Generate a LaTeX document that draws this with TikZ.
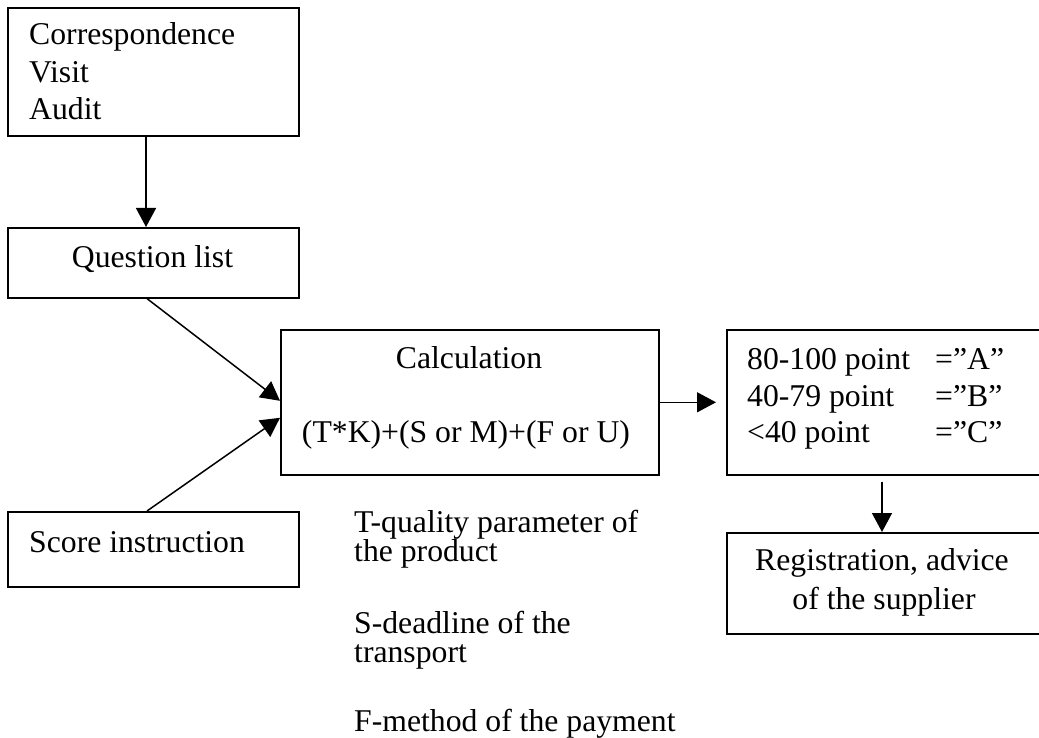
\documentclass[tikz,border=0pt]{standalone}
\usepackage{fontspec}
\setmainfont{Liberation Serif}
\usetikzlibrary{arrows.meta}
\tikzset{
  box/.style={draw, line width=1.6pt, rectangle, inner sep=0pt, anchor=north west},
  txt/.style={inner sep=0pt, font=\fontsize{31.7}{37.5}\selectfont},
  arr/.style={line width=1.5pt, -{Triangle[length=19pt,width=20pt]}},
}
\begin{document}
\begin{tikzpicture}[x=1pt,y=-1pt]
\useasboundingbox (0,0) rectangle (1039,738);
\clip (0,0) rectangle (1039,738);
% boxes
\node[box, minimum width=291pt, minimum height=128pt] (src) at (7,7) {};
\node[box, minimum width=291pt, minimum height=70pt] (qlist) at (7,227) {};
\node[box, minimum width=378pt, minimum height=145pt] (calc) at (280,329) {};
\node[box, minimum width=291pt, minimum height=75pt] (score) at (7,511) {};
\node[box, minimum width=314pt, minimum height=145pt] (grade) at (726,329) {};
\node[box, minimum width=314pt, minimum height=101pt] (reg) at (726,532) {};
% texts
\node[txt, anchor=base west] (t1) at (29,45) {Correspondence};
\node[txt, anchor=base west] (t2) at (29,83) {Visit};
\node[txt, anchor=base west] (t3) at (29,120) {Audit};
\node[txt, anchor=base] (tq) at (152.5,268) {Question list};
\node[txt, anchor=base] (tc1) at (469,368) {Calculation};
\node[txt, anchor=base] (tc2) at (466,442) {(T*K)+(S or M)+(F or U)};
\node[txt, anchor=base west] (g1a) at (747,369) {80-100 point};
\node[txt, anchor=base west] (g1b) at (935,369) {=”A”};
\node[txt, anchor=base west] (g2a) at (747,406) {40-79 point};
\node[txt, anchor=base west] (g2b) at (935,406) {=”B”};
\node[txt, anchor=base west] (g3a) at (747,442) {<40 point};
\node[txt, anchor=base west] (g3b) at (935,442) {=”C”};
\node[txt, anchor=base] (r1) at (882,570) {Registration, advice};
\node[txt, anchor=base] (r2) at (884,609) {of the supplier};
\node[txt, anchor=base west] (ts) at (29,552) {Score instruction};
\node[txt, anchor=base west] (n1) at (354,532) {T-quality parameter of};
\node[txt, anchor=base west] (n2) at (354,561) {the product};
\node[txt, anchor=base west] (n3) at (354,633) {S-deadline of the};
\node[txt, anchor=base west] (n4) at (354,662) {transport};
\node[txt, anchor=base west] (n5) at (354,731) {F-method of the payment};
% connectors
\draw[arr] ([xshift=139pt]src.south west) -- ([xshift=139pt]qlist.north west);
\draw[arr] ([xshift=140pt]qlist.south west) -- ([yshift=1.5pt]calc.west);
\draw[arr] ([xshift=140pt]score.north west) -- ([yshift=-15.5pt]calc.west);
\draw[arr] (calc.east) -- ([xshift=-10pt]grade.west);
\draw[arr] ([xshift=156pt,yshift=-6pt]grade.south west) -- ([xshift=156pt]reg.north west);
\end{tikzpicture}
\end{document}
